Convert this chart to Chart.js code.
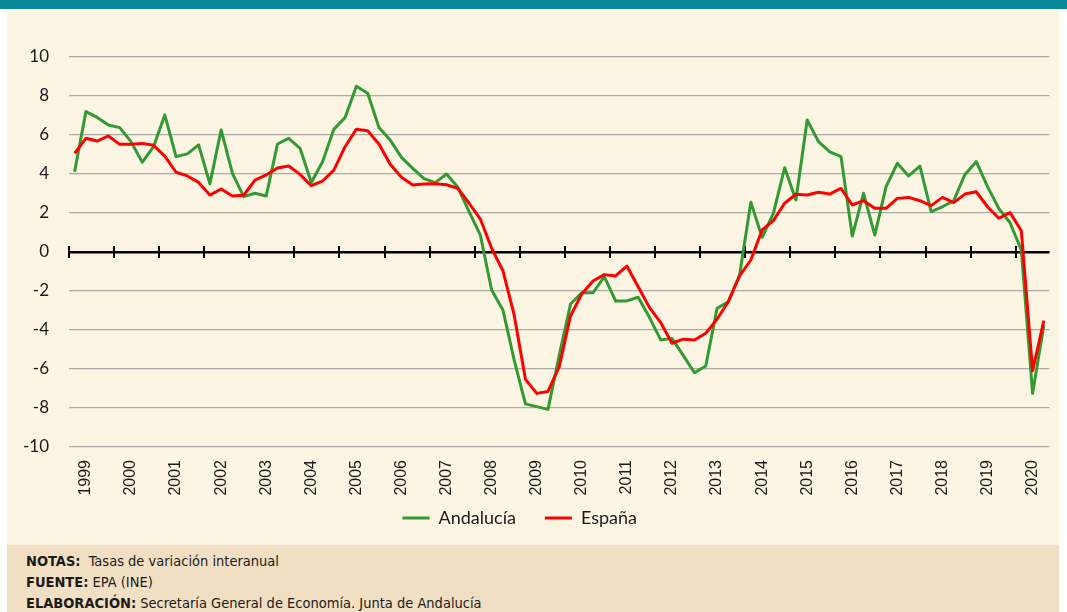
<!DOCTYPE html>
<html lang="es">
<head>
<meta charset="utf-8">
<title>Andalucía / España</title>
<script src="https://cdn.jsdelivr.net/npm/chart.js@4/dist/chart.umd.min.js"></script>
<style>
  html, body { margin: 0; padding: 0; background: #fff; overflow: hidden; }
  body { width: 1067px; height: 612px; position: relative; }
  #topBar { position: absolute; left: 0; top: 0; width: 1067px; height: 9px; background: #07899a; }
  #panel { position: absolute; left: 7px; top: 9px; width: 1052px; height: 536px; background: #fdf5e3; }
  #notes {
    position: absolute; left: 7px; top: 545px; width: 1052px; height: 67px; background: #f1dfc4;
    font-family: "Liberation Sans Narrow", "DejaVu Sans Condensed", sans-serif; font-size: 14.5px; color: #1a1a1a;
  }
  #notes div { position: absolute; left: 19px; white-space: nowrap; }
  #notes b { font-weight: bold; }
  #chart { position: absolute; left: -10px; top: 0; }
</style>
</head>
<body>
<div id="topBar"></div>
<div id="panel"></div>
<canvas id="chart" width="1077" height="545"></canvas>
<div id="notes">
  <div style="top: 8px"><b>NOTAS:</b>&nbsp; Tasas de variación interanual</div>
  <div style="top: 29px"><b>FUENTE:</b> EPA (INE)</div>
  <div style="top: 50px"><b>ELABORACIÓN:</b> Secretaría General de Economía. Junta de Andalucía</div>
</div>
<script>
// quarterly data, 1999 Q1 - 2020 Q3
const years = ['1999', '2000', '2001', '2002', '2003', '2004', '2005', '2006', '2007', '2008', '2009',
  '2010', '2011', '2012', '2013', '2014', '2015', '2016', '2017', '2018', '2019', '2020'];
const quarterNames = ['I', 'II', 'III', 'IV'];

const andalucia = [4.12, 7.2, 6.9, 6.51, 6.38, 5.66, 4.6, 5.4, 7.03, 4.89, 5.03, 5.49, 3.49, 6.26, 4.03, 2.84,
  3.01, 2.87, 5.54, 5.83, 5.32, 3.56, 4.63, 6.29, 6.9, 8.5, 8.14, 6.39, 5.74, 4.85, 4.29, 3.76,
  3.56, 4.0, 3.32, 2.07, 0.87, -1.95, -2.97, -5.54, -7.79, -7.93, -8.07, -5.3, -2.67, -2.09, -2.09, -1.26,
  -2.51, -2.51, -2.32, -3.35, -4.51, -4.43, -5.3, -6.19, -5.85, -2.89, -2.55, -1.18, 2.55, 0.75,
  1.98, 4.32, 2.67, 6.77, 5.66, 5.14, 4.89, 0.82, 3.01, 0.87, 3.35, 4.55, 3.9, 4.41, 2.07, 2.32,
  2.63, 3.98, 4.63, 3.35, 2.24, 1.5, 0.1, -7.25, -3.74];

const espana = [5.06, 5.83, 5.69, 5.95, 5.52, 5.52, 5.57, 5.47, 4.92, 4.09, 3.9, 3.57, 2.92, 3.23, 2.87, 2.91,
  3.69, 3.95, 4.31, 4.41, 3.98, 3.4, 3.64, 4.2, 5.4, 6.3, 6.22, 5.54, 4.5, 3.83, 3.44, 3.49,
  3.5, 3.45, 3.26, 2.5, 1.69, 0.19, -0.96, -3.23, -6.53, -7.25, -7.15, -5.88, -3.28, -2.15, -1.49, -1.16,
  -1.23, -0.72, -1.78, -2.84, -3.62, -4.68, -4.47, -4.51, -4.17, -3.45, -2.55, -1.23, -0.41, 1.13,
  1.61, 2.5, 2.96, 2.92, 3.06, 2.97, 3.26, 2.41, 2.63, 2.24, 2.24, 2.75, 2.8, 2.63, 2.38, 2.8,
  2.53, 2.97, 3.09, 2.32, 1.73, 2.02, 1.09, -6.09, -3.52];

const yTicks = [-10, -8, -6, -4, -2, 0, 2, 4, 6, 8, 10];

const labels = years
  .flatMap((year) => quarterNames.map((q) => `${q} ${year}`))
  .slice(0, andalucia.length);

// black tick marks across the zero line at each year boundary
const zeroTicks = {
  id: 'zeroTicks',
  afterLayout(chart) {
    // the year labels hang below the short x box, so widen the clip area
    chart.scales.x.bottom = chart.scales.x.top + 60;
  },
  beforeDatasetsDraw(chart) {
    const { ctx, scales: { x, y } } = chart;
    const y0 = y.getPixelForValue(0);
    const step = x.getPixelForValue(1) - x.getPixelForValue(0);
    ctx.save();
    ctx.strokeStyle = '#000';
    ctx.lineWidth = 2;
    for (let i = 0; i < labels.length; i += 4) {
      const px = Math.round(x.getPixelForValue(i) - step / 2);
      ctx.beginPath();
      ctx.moveTo(px, y0 - 6);
      ctx.lineTo(px, y0 + 6);
      ctx.stroke();
    }
    ctx.restore();
  }
};

new Chart(document.getElementById('chart'), {
  type: 'line',
  data: {
    labels,
    datasets: [
      {
        label: 'Andalucía',
        data: andalucia,
        borderColor: '#339933',
        backgroundColor: '#339933',
        borderWidth: 3,
        pointRadius: 0,
        tension: 0,
        borderJoinStyle: 'round',
        order: 2
      },
      {
        label: 'España',
        data: espana,
        borderColor: '#ff0000',
        backgroundColor: '#ff0000',
        borderWidth: 3,
        pointRadius: 0,
        tension: 0,
        borderJoinStyle: 'round',
        order: 1
      }
    ]
  },
  options: {
    responsive: false,
    animation: false,
    devicePixelRatio: 1,
    layout: { padding: { left: 0, right: 17.5, top: 57, bottom: 8 } },
    plugins: {
      legend: {
        position: 'bottom',
        labels: {
          usePointStyle: true,
          pointStyle: 'line',
          pointStyleWidth: 27,
          padding: 29,
          color: '#1a1a1a',
          font: { family: 'Lato', size: 18 },
          sort: (a, b) => a.datasetIndex - b.datasetIndex
        }
      },
      tooltip: { enabled: false }
    },
    scales: {
      x: {
        type: 'category',
        offset: true,
        grid: { display: false, drawTicks: false },
        border: { display: false },
        afterFit: (scale) => {
          scale.height = 33;
          scale.paddingLeft = 0;
          scale.paddingRight = 0;
        },
        ticks: {
          autoSkip: false,
          minRotation: 90,
          maxRotation: 90,
          padding: 13,
          color: '#1a1a1a',
          font: { family: 'Liberation Sans', size: 16 },
          callback: (value, index) => (index % 4 === 1 ? years[Math.floor(index / 4)] : '')
        }
      },
      y: {
        min: -10,
        max: 10,
        afterFit: (scale) => { scale.width = 79; },
        afterBuildTicks: (scale) => { scale.ticks = yTicks.map((v) => ({ value: v })); },
        grid: {
          drawTicks: false,
          color: (ctx) => (ctx.tick && ctx.tick.value === 0 ? '#000000' : '#acaaa6'),
          lineWidth: (ctx) => (ctx.tick && ctx.tick.value === 0 ? 2.5 : 1.2)
        },
        border: { display: false },
        ticks: {
          padding: 20,
          color: '#1a1a1a',
          font: { family: 'Lato', size: 17 }
        }
      }
    }
  },
  plugins: [zeroTicks]
});
</script>
</body>
</html>
